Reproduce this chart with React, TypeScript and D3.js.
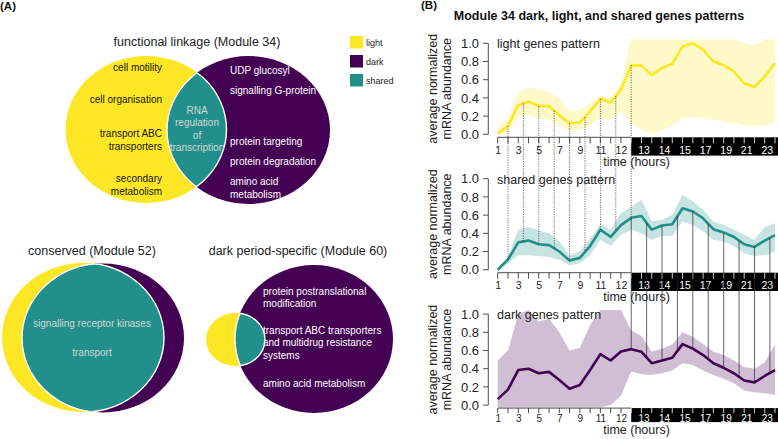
import React from "react";
import * as d3 from "d3";

// ---------- DATA ----------
const hourLabels = ["1", "", "3", "", "5", "", "7", "", "9", "", "11", "", "12", "", "13", "", "14", "", "15", "", "17", "", "19", "", "21", "", "23", ""];

const lightMean = [0.01, 0.09, 0.32, 0.36, 0.31, 0.31, 0.21, 0.12, 0.13, 0.25, 0.39, 0.35, 0.49, 0.76, 0.755, 0.65, 0.73, 0.775, 0.965, 1.0, 0.93, 0.8, 0.76, 0.69, 0.56, 0.52, 0.635, 0.78];
const lightLow = [-0.01, 0.02, 0.18, 0.21, 0.18, 0.16, 0.1, 0.04, 0.05, 0.1, 0.18, 0.16, 0.25, 0.12, 0.05, 0.0, 0.05, 0.1, 0.18, 0.19, 0.18, 0.16, 0.14, 0.12, 0.1, 0.09, 0.1, 0.12];
const lightHigh = [0.07, 0.18, 0.45, 0.52, 0.49, 0.47, 0.4, 0.25, 0.27, 0.34, 0.42, 0.4, 0.56, 1.1, 1.1, 1.1, 1.1, 1.1, 1.1, 1.1, 1.1, 1.1, 1.1, 1.05, 1.0, 0.98, 1.1, 1.1];

const sharedMean = [0.0, 0.11, 0.3, 0.32, 0.28, 0.27, 0.2, 0.1, 0.13, 0.26, 0.44, 0.36, 0.49, 0.57, 0.59, 0.44, 0.485, 0.5, 0.675, 0.64, 0.565, 0.445, 0.41, 0.36, 0.28, 0.25, 0.32, 0.38];
const sharedLow = [-0.01, 0.07, 0.16, 0.16, 0.15, 0.14, 0.11, 0.05, 0.07, 0.16, 0.33, 0.26, 0.38, 0.44, 0.4, 0.33, 0.37, 0.37, 0.53, 0.49, 0.42, 0.33, 0.31, 0.26, 0.18, 0.15, 0.16, 0.2];
const sharedHigh = [0.02, 0.15, 0.44, 0.47, 0.43, 0.4, 0.31, 0.16, 0.2, 0.34, 0.5, 0.44, 0.62, 0.69, 0.77, 0.53, 0.55, 0.6, 0.82, 0.75, 0.66, 0.53, 0.49, 0.44, 0.38, 0.33, 0.47, 0.51];

const darkMean = [0.066, 0.17, 0.385, 0.4, 0.35, 0.365, 0.275, 0.18, 0.22, 0.385, 0.56, 0.49, 0.59, 0.615, 0.585, 0.46, 0.49, 0.52, 0.67, 0.62, 0.55, 0.46, 0.41, 0.35, 0.27, 0.25, 0.32, 0.385];
const darkLow = [-0.05, -0.05, -0.05, -0.05, -0.05, -0.05, -0.05, -0.05, -0.05, -0.05, -0.05, 0.0, 0.1, 0.37, 0.34, 0.33, 0.35, 0.38, 0.46, 0.44, 0.38, 0.33, 0.29, 0.24, 0.16, 0.14, 0.13, 0.11];
const darkHigh = [0.49, 0.6, 1.0, 1.05, 0.92, 0.95, 0.8, 0.6, 0.63, 0.88, 1.05, 1.05, 1.05, 0.82, 0.76, 0.59, 0.62, 0.67, 0.8, 0.75, 0.67, 0.59, 0.55, 0.49, 0.42, 0.4, 0.47, 0.67];

const lightSharedGuides = [1, 2.5, 4, 5.5, 7, 8.5, 10, 11.5, 13];
const sharedDarkGuides = [13, 14.5, 16, 17.5, 19, 20.5, 22, 23.5, 25, 26.5];
const darkPeriodStart = 13;
const yTicks = [0, 0.2, 0.4, 0.6, 0.8, 1.0];

const legendItems = ["light", "dark", "shared"];

// ---------- STYLE ----------
const FONT = "'Liberation Sans', Arial, Helvetica, sans-serif";
const C_LIGHT = "#FDE725";
const C_DARK = "#440154";
const C_SHARED = "#21908C";
const colorOf: Record<string, string> = { light: C_LIGHT, dark: C_DARK, shared: C_SHARED };

const x = d3.scaleLinear().domain([0, 27]).range([497.7, 775]);
const y = d3.scaleLinear().domain([0, 1]).range([134.3, 43.3]);
const PANEL_STEP = 135.4;

function interp(arr: number[], t: number) {
  const i0 = Math.floor(t);
  const i1 = Math.min(arr.length - 1, i0 + 1);
  const f = t - i0;
  return arr[i0] * (1 - f) + arr[i1] * f;
}

function Panel(props: {
  idx: number;
  mean: number[];
  low: number[];
  high: number[];
  color: string;
  label: string;
}) {
  const { idx, mean, low, high, color, label } = props;
  const off = idx * PANEL_STEP;
  const lo = -0.025, hi = 1.045;
  const clamp = (v: number) => Math.max(lo, Math.min(hi, v));
  const area = d3
    .area<number>()
    .x((_, i) => x(i))
    .y0((_, i) => y(clamp(low[i])) + off)
    .y1((_, i) => y(clamp(high[i])) + off);
  const line = d3
    .line<number>()
    .x((_, i) => x(i))
    .y((d) => y(d) + off);
  const last = idx === 2;
  const axisY = 137.3 + off;
  const ys0 = y(0) + off;
  const ys1 = y(1) + off;
  const cy = (ys0 + ys1) / 2;
  const blackX = x(darkPeriodStart);
  const barH = last ? 14 : 18.3;
  const labY = last ? axisY + 13.6 : axisY + 16.3;
  const tickLen = last ? 5 : 6;
  const timeLabelY = last ? 434 : axisY + 28.5;
  return (
    <g>
      <path d={area(mean) || ""} fill={color} fillOpacity={0.25} stroke="none" />
      <path d={line(mean) || ""} fill="none" stroke={color} strokeWidth={2.6} strokeLinejoin="round" />
      {/* y axis */}
      <line x1={488.3} x2={488.3} y1={ys0} y2={ys1} stroke="#222" strokeWidth={0.8} />
      {yTicks.map((t) => (
        <g key={t}>
          <line x1={483} x2={488.3} y1={y(t) + off} y2={y(t) + off} stroke="#222" strokeWidth={0.8} />
          <text x={479} y={y(t) + off + 4.6} textAnchor="end" fontSize={13} fill="#222" fontFamily={FONT}>
            {d3.format(".1f")(t)}
          </text>
        </g>
      ))}
      <text
        transform={`translate(437,${cy}) rotate(-90)`}
        textAnchor="middle"
        fontSize={12.5}
        fill="#222"
        fontFamily={FONT}
      >
        average normalized
      </text>
      <text
        transform={`translate(450.5,${cy}) rotate(-90)`}
        textAnchor="middle"
        fontSize={12.5}
        fill="#222"
        fontFamily={FONT}
      >
        mRNA abundance
      </text>
      {/* x axis */}
      <rect x={blackX} y={axisY} width={778 - blackX} height={barH} fill="#000" />
      <line x1={x(0)} x2={blackX} y1={axisY} y2={axisY} stroke="#222" strokeWidth={0.8} />
      {hourLabels.map((lab, i) => {
        const inDark = i >= darkPeriodStart;
        const col = inDark ? "#fff" : "#222";
        return (
          <g key={i}>
            <line x1={x(i)} x2={x(i)} y1={axisY} y2={axisY + tickLen} stroke={col} strokeWidth={0.8} />
            {lab && (
              <text
                x={x(i) + (inDark ? 2.5 : 0.5)}
                y={labY}
                textAnchor="middle"
                fontSize={last ? 10 : 10.5}
                fill={col}
                fontFamily={FONT}
              >
                {lab}
              </text>
            )}
          </g>
        );
      })}
      <text x={636.5} y={timeLabelY} textAnchor="middle" fontSize={12.5} fill="#222" fontFamily={FONT}>
        time (hours)
      </text>
      <text x={497} y={ys1 + 4.8} fontSize={12.5} fill="#222" fontFamily={FONT}>
        {label}
      </text>
    </g>
  );
}

function Venn34() {
  return (
    <g fontFamily={FONT}>
      <defs>
        <clipPath id="c34y">
          <ellipse cx={146} cy={129.5} rx={80.5} ry={73.5} />
        </clipPath>
        <clipPath id="c34d">
          <ellipse cx={248.5} cy={130} rx={81.5} ry={74} />
        </clipPath>
      </defs>
      <ellipse cx={248.5} cy={130} rx={81.5} ry={74} fill={C_DARK} />
      <ellipse cx={146} cy={129.5} rx={80.5} ry={73.5} fill={C_LIGHT} />
      <g clipPath="url(#c34y)">
        <ellipse cx={248.5} cy={130} rx={81.5} ry={74} fill={C_SHARED} stroke="#fff" strokeWidth={1.4} />
      </g>
      <g clipPath="url(#c34d)">
        <ellipse cx={146} cy={129.5} rx={80.5} ry={73.5} fill="none" stroke="#fff" strokeWidth={1.4} />
      </g>
      <text x={197} y={46} textAnchor="middle" fontSize={12.5} fill="#222">functional linkage (Module 34)</text>
      <g fontSize={10} fill="#151515" textAnchor="end">
        <text x={162} y={70.5}>cell motility</text>
        <text x={162} y={103}>cell organisation</text>
        <text x={162} y={136.5}>transport ABC</text>
        <text x={162} y={149.5}>transporters</text>
        <text x={162} y={181.5}>secondary</text>
        <text x={162} y={194.5}>metabolism</text>
      </g>
      <g fontSize={10} fill="#d4d4d4" textAnchor="middle">
        <text x={197} y={113.5}>RNA</text>
        <text x={197} y={126}>regulation</text>
        <text x={197} y={138.5}>of</text>
        <text x={197} y={151}>transcription</text>
      </g>
      <g fontSize={10} fill="#fff">
        <text x={230} y={73.5}>UDP glucosyl</text>
        <text x={230} y={93.5}>signalling G-protein</text>
        <text x={230} y={144.5}>protein targeting</text>
        <text x={230} y={165}>protein degradation</text>
        <text x={230} y={185}>amino acid</text>
        <text x={230} y={197.5}>metabolism</text>
      </g>
    </g>
  );
}

function Venn52() {
  return (
    <g fontFamily={FONT}>
      <defs>
        <clipPath id="c52y">
          <ellipse cx={83} cy={337.5} rx={81} ry={74.5} />
        </clipPath>
        <clipPath id="c52d">
          <ellipse cx={103} cy={338} rx={81} ry={74.5} />
        </clipPath>
      </defs>
      <ellipse cx={103} cy={338} rx={81} ry={74.5} fill={C_DARK} />
      <ellipse cx={83} cy={337.5} rx={81} ry={74.5} fill={C_LIGHT} />
      <g clipPath="url(#c52y)">
        <ellipse cx={103} cy={338} rx={81} ry={74.5} fill={C_SHARED} stroke="#fff" strokeWidth={1.4} />
      </g>
      <g clipPath="url(#c52d)">
        <ellipse cx={83} cy={337.5} rx={81} ry={74.5} fill="none" stroke="#fff" strokeWidth={1.4} />
      </g>
      <text x={92} y={255} textAnchor="middle" fontSize={12.5} fill="#222">conserved (Module 52)</text>
      <g fontSize={10} fill="#d4d4d4" textAnchor="middle">
        <text x={92} y={326.5}>signalling receptor kinases</text>
        <text x={92} y={355.5}>transport</text>
      </g>
    </g>
  );
}

function Venn60() {
  return (
    <g fontFamily={FONT}>
      <defs>
        <clipPath id="c60y">
          <ellipse cx={235.5} cy={339.5} rx={29.5} ry={26.5} />
        </clipPath>
        <clipPath id="c60d">
          <ellipse cx={314} cy={339} rx={79} ry={74} />
        </clipPath>
      </defs>
      <ellipse cx={314} cy={339} rx={79} ry={74} fill={C_DARK} />
      <ellipse cx={235.5} cy={339.5} rx={29.5} ry={26.5} fill={C_LIGHT} />
      <g clipPath="url(#c60y)">
        <ellipse cx={314} cy={339} rx={79} ry={74} fill={C_SHARED} stroke="#fff" strokeWidth={1.4} />
      </g>
      <g clipPath="url(#c60d)">
        <ellipse cx={235.5} cy={339.5} rx={29.5} ry={26.5} fill="none" stroke="#fff" strokeWidth={1.4} />
      </g>
      <text x={298} y={255} textAnchor="middle" fontSize={12.5} fill="#222">dark period-specific (Module 60)</text>
      <g fontSize={10} fill="#fff">
        <text x={263} y={294.5}>protein postranslational</text>
        <text x={263} y={306.5}>modification</text>
        <text x={263} y={333.5}>transport ABC transporters</text>
        <text x={263} y={346}>and multidrug resistance</text>
        <text x={263} y={358.5}>systems</text>
        <text x={263} y={386.5}>amino acid metabolism</text>
      </g>
    </g>
  );
}

export default function App() {
  const panels = [
    { mean: lightMean, low: lightLow, high: lightHigh, color: C_LIGHT, label: "light genes pattern" },
    { mean: sharedMean, low: sharedLow, high: sharedHigh, color: C_SHARED, label: "shared genes pattern" },
    { mean: darkMean, low: darkLow, high: darkHigh, color: C_DARK, label: "dark genes pattern" },
  ];
  return (
    <svg
      width={778}
      height={439}
      viewBox="0 0 778 439"
      style={{ position: "absolute", left: 0, top: 0, background: "#fff" }}
    >
      <rect x={0} y={0} width={778} height={439} fill="#fff" />
      <text x={0} y={10} fontSize={11.5} fontWeight="bold" fill="#111" fontFamily={FONT}>(A)</text>
      <text x={421} y={9} fontSize={11.5} fontWeight="bold" fill="#111" fontFamily={FONT}>(B)</text>
      <Venn34 />
      <Venn52 />
      <Venn60 />
      {/* legend */}
      {legendItems.map((k, i) => (
        <g key={k} fontFamily={FONT}>
          <rect x={350} y={36 + i * 19} width={13} height={12.5} fill={colorOf[k]} />
          <text x={366} y={45.5 + i * 19} fontSize={9} fill="#222">{k}</text>
        </g>
      ))}
      <text x={599} y={20} textAnchor="middle" fontSize={12.5} fontWeight="bold" fill="#111" fontFamily={FONT}>
        Module 34 dark, light, and shared genes patterns
      </text>
      {panels.map((p, i) => (
        <Panel key={i} idx={i} {...p} />
      ))}
      {/* guide lines: light -> shared (dotted) */}
      {lightSharedGuides.map((t) => (
        <line
          key={"ls" + t}
          x1={x(t)}
          x2={x(t)}
          y1={y(interp(lightMean, t))}
          y2={y(interp(sharedMean, t)) + PANEL_STEP}
          stroke="#333"
          strokeWidth={0.7}
          strokeDasharray="1.2,1.2"
        />
      ))}
      {/* guide lines: shared -> dark (solid) */}
      {sharedDarkGuides.map((t) => (
        <line
          key={"sd" + t}
          x1={x(t)}
          x2={x(t)}
          y1={y(interp(sharedMean, t)) + PANEL_STEP}
          y2={y(interp(darkMean, t)) + 2 * PANEL_STEP}
          stroke="#222"
          strokeWidth={0.7}
        />
      ))}
    </svg>
  );
}
